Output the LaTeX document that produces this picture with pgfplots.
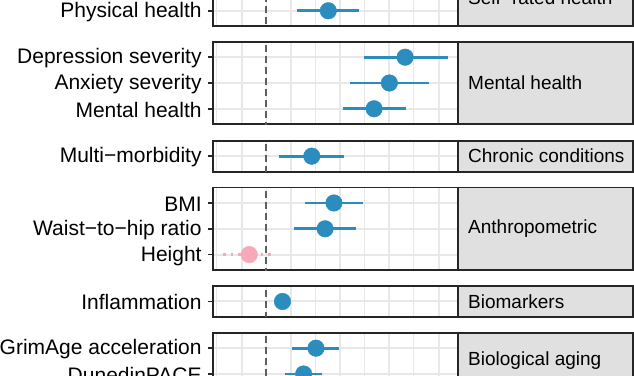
\documentclass[border=0pt]{standalone}
\usepackage{fontspec}
\setmainfont{Liberation Sans}
\usepackage{pgfplots}
\pgfplotsset{compat=1.18}
\definecolor{ptblue}{HTML}{2B8CBE}
\definecolor{ptpink}{HTML}{F6AAB9}
\definecolor{grey20}{HTML}{262626}
\definecolor{grey92}{HTML}{E8E8E8}
\definecolor{grey85}{HTML}{E0E0E0}
\definecolor{refgrey}{HTML}{5F5F5F}
\definecolor{txt}{HTML}{000000}
\newcommand{\ci}[3]{\addplot[ptblue, line width=2.7pt, forget plot] coordinates {(#1,#3) (#2,#3)};}
\newcommand{\refline}{\addplot[refgrey, line width=2.3pt, dash pattern=on 7pt off 4pt, forget plot] coordinates {(0,-5) (0,10)};}
\newcommand{\strip}[1]{%
  \draw[grey20, line width=1.8pt, fill=grey85] (rel axis cs:1,0) rectangle (rel axis cs:1.7143,1);
  \node[anchor=west, inner sep=0pt, text=txt, font=\fontsize{19}{22}\selectfont] at (rel axis cs:1.0396,0.5) {#1};}
\pgfplotsset{
 panel/.style={
  scale only axis, width=245pt, anchor=north west,
  xmin=-2.15, xmax=7.80,
  y dir=reverse, ymin=0.4,
  xtick={-1,1,3,5,7}, minor xtick={-2,0,2,4,6},
  xticklabels={},
  xmajorgrids=true, xminorgrids=true, ymajorgrids=true,
  major grid style={grey92, line width=2pt},
  minor grid style={grey92, line width=1pt},
  axis line style={grey20, line width=1.8pt},
  xtick style={draw=none},
  minor x tick style={draw=none},
  ytick align=outside, ytick pos=left,
  major tick length=5.5pt,
  ytick style={grey20, line width=1.8pt},
  yticklabel style={font=\fontsize{21}{24}\selectfont, text=txt, inner sep=0pt, xshift=-6pt, yshift=-1pt},
  clip mode=individual,
 }
}
\begin{document}
\begin{tikzpicture}
\clip (0,0) rectangle (634pt,375pt);
\path[use as bounding box] (0,0) rectangle (634pt,375pt);

% Self-rated health
\begin{axis}[panel, at={(213.3pt,405.5pt)}, height=56.76pt, ymax=2.6,
  ytick={1,2}, yticklabels={{},Physical health}]
\refline
\ci{1.26}{3.78}{2}
\addplot[ptblue, only marks, mark=*, mark size=8.3pt] coordinates {(2.52,2)};
\strip{Self−rated health}
\end{axis}

% Mental health
\begin{axis}[panel, at={(213.3pt,333.3pt)}, height=82.56pt, ymax=3.6,
  ytick={1,2,3}, yticklabels={Depression severity,Anxiety severity,Mental health}]
\refline
\ci{3.98}{7.37}{1}
\ci{3.41}{6.60}{2}
\ci{3.11}{5.67}{3}
\addplot[ptblue, only marks, mark=*, mark size=8.3pt] coordinates {(5.64,1) (5.00,2) (4.38,3)};
\strip{Mental health}
\end{axis}

% Chronic conditions
\begin{axis}[panel, at={(213.3pt,234.3pt)}, height=30.96pt, ymax=1.6,
  ytick={1}, yticklabels={Multi−morbidity}]
\refline
\ci{0.52}{3.15}{1}
\addplot[ptblue, only marks, mark=*, mark size=8.3pt] coordinates {(1.85,1)};
\strip{Chronic conditions}
\end{axis}

% Anthropometric
\begin{axis}[panel, at={(213.3pt,187.5pt)}, height=82.56pt, ymax=3.6,
  ytick={1,2,3}, yticklabels={BMI,Waist−to−hip ratio,Height}]
\refline
\ci{1.59}{3.93}{1}
\ci{1.11}{3.66}{2}
\addplot[ptpink, line width=2.5pt, dash pattern=on 2.5pt off 5pt, forget plot] coordinates {(-1.75,3) (0.19,3)};
\addplot[ptblue, only marks, mark=*, mark size=8.3pt] coordinates {(2.75,1) (2.39,2)};
\addplot[ptpink, only marks, mark=*, mark size=8.3pt] coordinates {(-0.69,3)};
\strip{Anthropometric}
\end{axis}

% Biomarkers
\begin{axis}[panel, at={(213.3pt,89pt)}, height=30.96pt, ymax=1.6,
  ytick={1}, yticklabels={Inflammation}]
\refline
\ci{0.45}{0.87}{1}
\addplot[ptblue, only marks, mark=*, mark size=8.3pt] coordinates {(0.66,1)};
\strip{Biomarkers}
\end{axis}

% Biological aging
\begin{axis}[panel, at={(213.3pt,42.3pt)}, height=56.76pt, ymax=2.6,
  ytick={1,2}, yticklabels={GrimAge acceleration,DunedinPACE}]
\refline
\ci{1.05}{2.97}{1}
\ci{0.77}{2.25}{2}
\addplot[ptblue, only marks, mark=*, mark size=8.3pt] coordinates {(2.02,1) (1.52,2)};
\strip{Biological aging}
\end{axis}
\end{tikzpicture}
\end{document}
